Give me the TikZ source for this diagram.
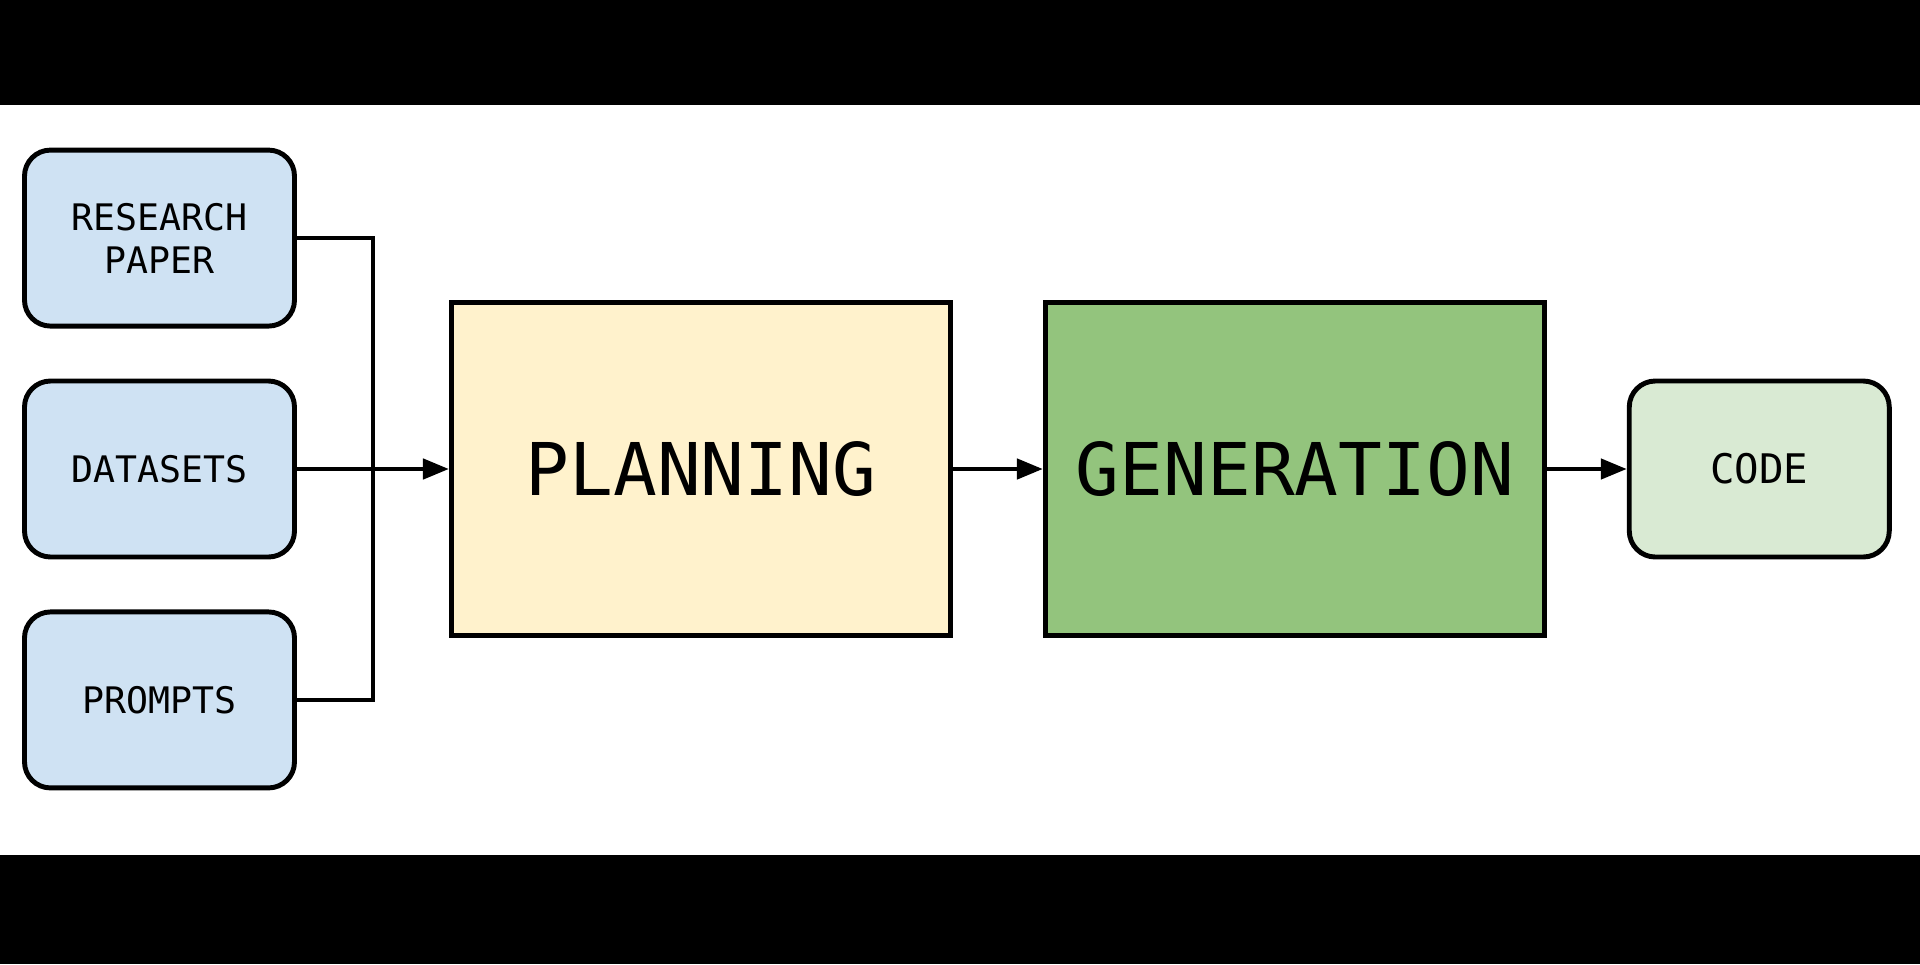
\documentclass[tikz,border=0pt]{standalone}
\usepackage{fontspec}
\setmonofont{DejaVu Sans Mono}
\usetikzlibrary{arrows.meta, positioning, calc}

\definecolor{inblue}{HTML}{CFE2F3}
\definecolor{planyellow}{HTML}{FFF2CC}
\definecolor{gengreen}{HTML}{93C47D}
\definecolor{codegreen}{HTML}{D9EAD3}

\begin{document}
\begin{tikzpicture}[
        node distance=0.5cm and 1.52cm,
        inbox/.style={rectangle, draw=black, line width=1.4pt, rounded corners=0.26cm, fill=inblue, minimum width=2.7cm, minimum height=1.76cm, align=center, font=\ttfamily\fontsize{10.4}{12.3}\selectfont},
        stage/.style={rectangle, draw=black, line width=1.4pt, minimum width=4.99cm, minimum height=3.33cm, font=\ttfamily\fontsize{20.7}{24}\selectfont},
        link/.style={line width=1.3pt, draw=black},
        arrow/.style={-{Triangle[length=0.26cm, width=0.2cm]}, line width=1.3pt, draw=black}
    ]
    % frame with the black bars
    \useasboundingbox (0,0) rectangle (19.2,-9.64);
    \fill[white] (0,0) rectangle (19.2,-9.64);
    \fill[black] (0,0) rectangle (19.2,-1.05);
    \fill[black] (0,-8.55) rectangle (19.2,-9.64);

    \node[inbox] (datasets) at (1.595,-4.69) {DATASETS};
    \node[inbox, above=of datasets] (paper) {RESEARCH\\PAPER};
    \node[inbox, below=of datasets] (prompts) {PROMPTS};
    \node[stage, right=of datasets, fill=planyellow] (planning) {PLANNING};
    \node[stage, right=0.9cm of planning, fill=gengreen] (generation) {GENERATION};
    \node[inbox, right=0.8cm of generation, minimum width=2.6cm, fill=codegreen, font=\ttfamily\fontsize{11.6}{14}\selectfont] (code) {CODE};

    % inputs join into one line
    \coordinate (bus) at ($(datasets.east)!0.5!(planning.west)$);
    \draw[link] (paper.east) -| (bus);
    \draw[link] (prompts.east) -| (bus);
    \draw[arrow] (datasets.east) -- (planning.west);
    \draw[arrow] (planning) -- (generation);
    \draw[arrow] (generation) -- (code);
\end{tikzpicture}
\end{document}
